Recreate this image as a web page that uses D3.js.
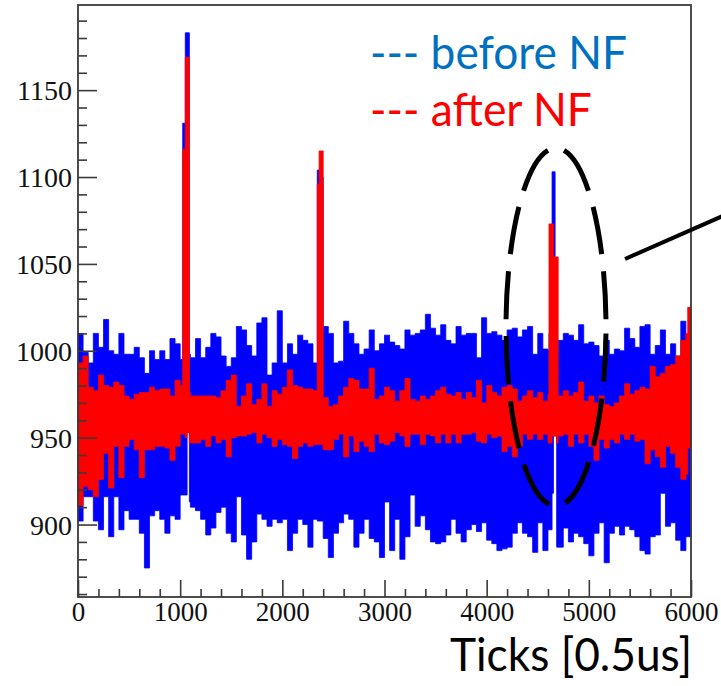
<!DOCTYPE html>
<html>
<head>
<meta charset="utf-8">
<script src="https://cdn.jsdelivr.net/npm/d3@7"></script>
<style>
  html, body { margin: 0; padding: 0; background: #fff; }
  svg { display: block; }
</style>
</head>
<body>
<svg id="chart" width="721" height="686"></svg>
<script>
// ---------------- data ----------------
// Histogram read off in 50-tick bins: upper and lower envelope of each trace.
const binSize = 50;
const binStart = d3.range(0, 6000, binSize);

const blueHi = [1010,999,993,1010,1002,1018,1000,998,1010,998,998,1002,996,987,1000,995,1000,995,1007,1004,
  995,998,996,1007,996,1002,1010,1008,997,991,996,1014,1012,1003,997,1016,1019,986,993,1023,
  993,1004,998,1009,1006,1004,993,1016,1014,1010,993,994,1017,1010,1004,998,1001,1012,1000,1004,
  1009,1005,1003,1001,1012,1009,1010,1012,1021,1013,1009,1015,1006,1004,1014,1009,1010,1010,996,1019,
  1010,1011,1009,1006,1012,1013,1008,1012,1014,998,1010,1001,1000,1006,1006,1010,1009,1006,1015,1004,
  1005,1003,997,1006,998,1001,1000,1013,1007,1002,1014,1015,998,1003,1012,998,1004,997,1017,1009];

const blueLo = [902,916,916,902,897,916,893,916,897,908,903,903,895,875,905,908,903,895,905,903,
  917,913,910,908,903,894,898,907,910,895,890,916,894,880,890,906,903,899,903,901,
  903,885,895,903,900,887,903,891,892,881,895,901,906,903,887,895,903,892,890,881,
  913,885,903,880,893,917,899,905,897,890,889,890,894,903,895,890,897,900,896,901,
  891,889,885,886,887,895,901,895,893,884,901,885,897,891,887,898,890,895,893,889,
  882,895,901,878,895,899,894,899,897,893,885,883,893,894,918,899,901,891,885,893];

const redHi = [993,997,979,977,986,980,979,982,980,974,972,975,976,976,979,977,978,978,974,983,
  980,976,974,974,974,974,974,973,977,983,986,968,974,981,969,972,981,968,977,975,
  979,989,980,979,978,978,977,974,973,968,969,974,979,984,983,978,978,990,972,974,
  979,977,971,977,984,972,971,974,972,974,977,979,975,974,976,972,976,973,983,970,
  980,976,974,979,980,978,971,974,977,973,976,971,975,978,974,977,974,976,982,971,
  974,970,974,969,968,970,974,981,975,977,979,978,991,985,987,991,992,997,1006,1010];

const redLo = [911,922,920,916,926,941,921,945,927,945,949,943,927,943,943,945,945,944,937,945,
  952,947,947,947,949,945,951,947,949,939,950,951,951,952,953,947,952,950,945,949,
  946,945,938,945,947,945,946,944,943,943,949,952,939,951,942,948,945,942,952,947,
  946,948,953,951,945,952,952,946,952,951,947,952,947,952,947,952,952,953,948,947,
  952,950,951,942,945,939,945,952,949,952,949,952,947,950,951,952,945,952,947,952,
  945,937,949,944,949,947,952,949,952,948,949,935,943,939,933,945,941,933,926,929];

// Narrow pulses (tick ranges) that override the binned envelope.
const spikeStart  = [1025, 1050, 1068, 2342, 2360, 4610, 4640, 4654, 4670, 4685, 5968];
const spikeEnd    = [1050, 1068, 1090, 2360, 2400, 4640, 4654, 4670, 4685, 4700, 6000];
const spikeBlueHi = [1131, 1183, 1183, 1104, 1100, 1010, 1103, 1103, 1000, 1000, 1009];
const spikeBlueLo = [ 917,  917,  953,  902,  902,  897,  918,  951,  951,  887,  893];
const spikeRedHi  = [1116, 1169, 1169, 1096, 1115, 1073, 1073, 1054, 1054, 1054, 1025];
const spikeRedLo  = [ 952,  950,  953,  946,  946,  947,  951,  951,  951,  947,  944];

const xTickMajor = [0, 1000, 2000, 3000, 4000, 5000, 6000];
const yTickMajor = [900, 950, 1000, 1050, 1100, 1150];
const legendLabels = ["--- before NF", "--- after NF"];
const axisTitle = "Ticks [0.5us]";

// ---------------- layout ----------------
const svg = d3.select("#chart");
const L = 78, R = 691, T = 5, B = 597;
const x = d3.scaleLinear().domain([0, 6000]).range([L, R]);
const y = d3.scaleLinear().domain([858.3, 1199]).range([B, T]);

// build contiguous intervals
const spikes = spikeStart.map((s, i) => ({
  t0: s, t1: spikeEnd[i],
  bHi: spikeBlueHi[i], bLo: spikeBlueLo[i], rHi: spikeRedHi[i], rLo: spikeRedLo[i]
}));
let intervals = [];
binStart.forEach((t0, i) => {
  let pieces = [[t0, t0 + binSize]];
  spikes.forEach(s => {
    pieces = pieces.flatMap(([a, b]) => {
      if (s.t1 <= a || s.t0 >= b) return [[a, b]];
      const r = [];
      if (s.t0 > a) r.push([a, s.t0]);
      if (s.t1 < b) r.push([s.t1, b]);
      return r;
    });
  });
  pieces.forEach(([a, b]) => intervals.push({
    t0: a, t1: b, bHi: blueHi[i], bLo: blueLo[i], rHi: redHi[i], rLo: redLo[i]
  }));
});
intervals = intervals.concat(spikes).sort((a, b) => a.t0 - b.t0);
const pts = intervals.map(d => ({ t: d.t0, ...d }));
const last = intervals[intervals.length - 1];
pts.push({ ...last, t: last.t1 });

const plot = svg.append("g");
const blueArea = d3.area().curve(d3.curveStepAfter)
  .x(d => x(d.t)).y0(d => y(d.bLo)).y1(d => y(d.bHi));
const redArea = d3.area().curve(d3.curveStepAfter)
  .x(d => x(d.t)).y0(d => y(d.rLo)).y1(d => y(d.rHi));

plot.append("path").datum(pts).attr("d", blueArea)
  .attr("fill", "#0000ff").attr("stroke", "#0000ff").attr("stroke-width", 0.8);
plot.append("path").datum(pts).attr("d", redArea)
  .attr("fill", "#ff0000").attr("stroke", "#ff0000").attr("stroke-width", 0.8);

// ---------------- axes ----------------
const axisColor = "#3a3a3a";
const serif = "'Liberation Serif', 'DejaVu Serif', serif";

const yMinor = d3.range(860, 1200, 10).filter(v => v % 50 !== 0);
const xMinor = d3.range(200, 6000, 200).filter(v => v % 1000 !== 0);

const gy = svg.append("g").attr("transform", `translate(${L},0)`)
  .call(d3.axisLeft(y).tickValues(yTickMajor).tickSize(-19).tickPadding(6).tickFormat(d3.format("d")));
const gyMinor = svg.append("g").attr("transform", `translate(${L},0)`)
  .call(d3.axisLeft(y).tickValues(yMinor).tickSize(-9).tickFormat(""));
const gx = svg.append("g").attr("transform", `translate(0,${B})`)
  .call(d3.axisBottom(x).tickValues(xTickMajor).tickSize(-17).tickPadding(6).tickFormat(d3.format("d")));
const gxMinor = svg.append("g").attr("transform", `translate(0,${B})`)
  .call(d3.axisBottom(x).tickValues(xMinor).tickSize(-8).tickFormat(""));

[gy, gyMinor, gx, gxMinor].forEach(g => {
  g.select(".domain").remove();
  g.selectAll("line").attr("stroke", axisColor).attr("stroke-width", 1.6);
  g.selectAll("text").attr("fill", "#111").style("font-family", serif);
});
gy.selectAll("text").style("font-size", "28px").attr("dy", "0.34em");
gx.selectAll("text").style("font-size", "27px").attr("dy", "0.68em");

// frame
svg.append("rect").attr("x", L).attr("y", T).attr("width", R - L).attr("height", B - T)
  .attr("fill", "none").attr("stroke", axisColor).attr("stroke-width", 1.8);

// ---------------- annotations ----------------
const sans = "Lato, 'Open Sans', sans-serif";
svg.append("text").attr("x", 370).attr("y", 69).text(legendLabels[0])
  .attr("fill", "#0070c0").style("font-family", sans).style("font-size", "46px")
  .attr("textLength", 257).attr("lengthAdjust", "spacingAndGlyphs");
svg.append("text").attr("x", 370).attr("y", 126).text(legendLabels[1])
  .attr("fill", "#ff0000").style("font-family", sans).style("font-size", "46px")
  .attr("textLength", 222).attr("lengthAdjust", "spacingAndGlyphs");

svg.append("text").attr("x", 450).attr("y", 671).text(axisTitle)
  .attr("fill", "#000").style("font-family", sans).style("font-size", "46px")
  .attr("textLength", 242).attr("lengthAdjust", "spacingAndGlyphs");

// dashed ellipse highlighting the third pulse
const ell = svg.append("ellipse").attr("cx", 556).attr("cy", 327).attr("rx", 50).attr("ry", 179)
  .attr("fill", "none").attr("stroke", "#000").attr("stroke-width", 5)
  .attr("stroke-dasharray", "48 17");
const P = ell.node().getTotalLength();
const period = 65;
let off = (56.5 - 0.75 * P) % period;
if (off < 0) off += period;
ell.attr("stroke-dashoffset", off);

svg.append("line").attr("x1", 625).attr("y1", 259).attr("x2", 725).attr("y2", 215)
  .attr("stroke", "#000").attr("stroke-width", 4);
</script>
</body>
</html>
